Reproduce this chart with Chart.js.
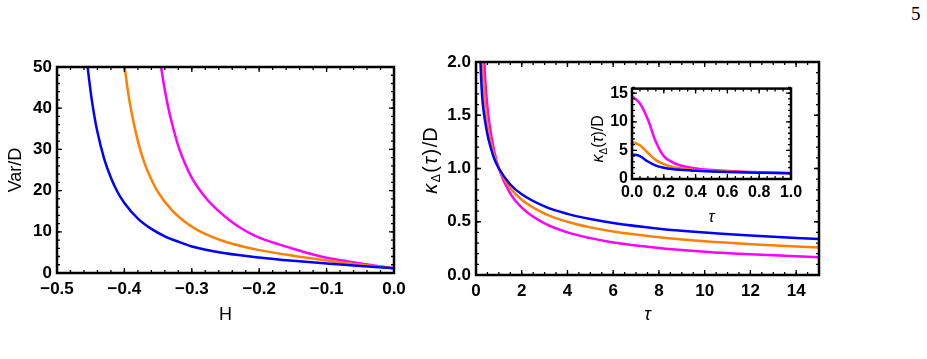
<!DOCTYPE html>
<html>
<head>
<meta charset="utf-8">
<script src="https://cdn.jsdelivr.net/npm/chart.js@4"></script>
<style>
  body { margin: 0; background: #fff; width: 927px; height: 359px; position: relative; overflow: hidden; }
  .box { position: absolute; }
  #pagenum { position: absolute; left: 911px; top: 4px; font: 19px "Liberation Serif", serif; line-height: 19px; color: #000; }
</style>
</head>
<body>
<div id="pagenum">5</div>
<div class="box" style="left:0;top:0"><canvas id="varChart" width="420" height="330"></canvas></div>
<div class="box" style="left:420px;top:0"><canvas id="kappaChart" width="420" height="330"></canvas></div>
<div class="box" style="left:580px;top:75px"><canvas id="insetChart" width="230" height="160"></canvas></div>
<script>
// panel izquierdo: Var/D frente a H
var hBlue = [-0.458, -0.455, -0.45, -0.445, -0.44, -0.43, -0.42, -0.41, -0.40, -0.38, -0.36, -0.34, -0.32, -0.30, -0.25, -0.20, -0.15, -0.10, -0.05, 0];
var vBlue = [55.7, 50.7, 43.9, 38.5, 34.2, 27.7, 23.1, 19.6, 17.0, 13.2, 10.7, 8.9, 7.6, 6.45, 4.8, 3.75, 2.95, 2.3, 1.7, 1.15];
var hOrange = [-0.403, -0.40, -0.395, -0.39, -0.38, -0.37, -0.36, -0.35, -0.33, -0.31, -0.29, -0.27, -0.25, -0.22, -0.20, -0.15, -0.10, -0.05, 0];
var vOrange = [55.2, 50.7, 44.4, 39.5, 32.0, 26.6, 22.7, 19.6, 15.3, 12.4, 10.3, 8.77, 7.59, 6.27, 5.55, 4.2, 3.05, 2.0, 1.15];
var hMagenta = [-0.35, -0.345, -0.34, -0.335, -0.33, -0.32, -0.31, -0.30, -0.28, -0.26, -0.24, -0.22, -0.20, -0.17, -0.15, -0.12, -0.10, -0.07, -0.05, -0.025, 0];
var vMagenta = [55.5, 49.4, 44.4, 40.2, 36.7, 30.8, 26.5, 23.1, 18.4, 15.0, 12.3, 10.2, 8.6, 6.9, 5.9, 4.5, 3.7, 2.85, 2.3, 1.7, 1.15];

// panel derecho (y recuadro): kappa/D frente a tau
var tau = [0, 0.05, 0.1, 0.15, 0.2, 0.25, 0.3, 0.4, 0.5, 0.6, 0.8, 1, 1.5, 2, 3, 4, 5, 6, 8, 10, 12, 15];
var kBlue = [4.3, 4.0, 3.05, 2.35, 1.98, 1.74, 1.60, 1.44, 1.32, 1.23, 1.09, 1.0, 0.85, 0.758, 0.644, 0.574, 0.525, 0.488, 0.435, 0.398, 0.370, 0.338];
var kOrange = [6.45, 5.9, 4.55, 3.3, 2.6, 2.15, 1.9, 1.58, 1.41, 1.29, 1.12, 1.0, 0.816, 0.707, 0.577, 0.5, 0.447, 0.408, 0.354, 0.316, 0.289, 0.258];
var kMagenta = [14.5, 13.2, 10.4, 6.5, 4.0, 3.0, 2.4, 1.85, 1.58, 1.40, 1.16, 1.0, 0.765, 0.633, 0.484, 0.40, 0.346, 0.306, 0.254, 0.219, 0.194, 0.167];

var colores = ["rgb(0,0,255)", "rgb(255,128,0)", "rgb(255,0,255)"];

function puntos(xs, ys, maxX) {
    var out = [];
    for (let i = 0; i < xs.length; i++) {
        if (maxX === undefined || xs[i] <= maxX) out.push({x: xs[i], y: ys[i]});
    }
    return out;
}
function serie(data, color) {
    return {data: data, borderColor: color, borderWidth: 2.5, pointRadius: 0, fill: false, cubicInterpolationMode: "monotone"};
}
function fmt1(v) { return (Math.abs(v) < 1e-9 ? 0 : v).toFixed(1).replace("-", "\u2212"); }

// marco con marcas hacia dentro, como Mathematica
var marco = {
    id: "marco",
    afterDatasetsDraw(chart, args, o) {
        const ctx = chart.ctx, a = chart.chartArea, sx = chart.scales.x, sy = chart.scales.y;
        ctx.save();
        ctx.strokeStyle = "#000";
        ctx.lineWidth = 1.3;
        function marcas(scale, step, len, horiz) {
            const n = Math.round((scale.max - scale.min) / step);
            for (let i = 0; i <= n; i++) {
                const v = scale.min + i * step;
                const p = scale.getPixelForValue(v);
                ctx.beginPath();
                if (horiz) {
                    ctx.moveTo(p, a.bottom); ctx.lineTo(p, a.bottom - len);
                    ctx.moveTo(p, a.top); ctx.lineTo(p, a.top + len);
                } else {
                    ctx.moveTo(a.left, p); ctx.lineTo(a.left + len, p);
                    ctx.moveTo(a.right, p); ctx.lineTo(a.right - len, p);
                }
                ctx.stroke();
            }
        }
        marcas(sx, o.xMinor, 3, true);
        marcas(sx, o.xMajor, 5, true);
        marcas(sy, o.yMinor, 3, false);
        marcas(sy, o.yMajor, 5, false);
        ctx.lineWidth = 2.5;
        ctx.strokeRect(a.left, a.top, a.right - a.left, a.bottom - a.top);
        ctx.restore();
    }
};

// titulo vertical con subindice: kappa_Delta(tau)/D
var tituloKappa = {
    id: "tituloKappa",
    afterDraw(chart, args, o) {
        const ctx = chart.ctx, a = chart.chartArea;
        const s = o.size, fam = '"Liberation Sans", Arial, sans-serif', gap = o.gap || 0;
        const partes = [
            {t: "\u03BA", f: "italic " + s + "px " + fam, dy: 0},
            {t: "\u0394", f: Math.round(s * 0.62) + "px " + fam, dy: s * 0.3},
            {t: "(", f: s + "px " + fam, dy: 0},
            {t: "\u03C4", f: "italic " + s + "px " + fam, dy: 0},
            {t: ")", f: s + "px " + fam, dy: 0},
            {t: "/D", f: s + "px " + fam, dy: 0}
        ];
        ctx.save();
        let total = 0;
        partes.forEach(p => { ctx.font = p.f; p.w = ctx.measureText(p.t).width + gap; total += p.w; });
        total -= gap;
        ctx.translate(a.left - o.dx, (a.top + a.bottom) / 2 + o.dy);
        ctx.rotate(-Math.PI / 2);
        ctx.fillStyle = "#000";
        ctx.textBaseline = "middle";
        let x = -total / 2;
        partes.forEach(p => { ctx.font = p.f; ctx.fillText(p.t, x, p.dy); x += p.w; });
        ctx.restore();
    }
};

var tickFont = {family: '"Liberation Sans", Arial, sans-serif', size: 17, weight: "bold"};
var titleFont = {family: '"Liberation Sans", Arial, sans-serif', size: 18};

function ejes(cfg) {
    return {
        x: {
            type: "linear", min: cfg.xmin, max: cfg.xmax,
            afterFit: s => { s.height = cfg.xh; },
            grid: {display: false, drawTicks: false}, border: {display: false},
            ticks: {stepSize: cfg.xstep, includeBounds: false, maxRotation: 0, autoSkip: false, padding: cfg.xpad, color: "#000", font: cfg.tf, callback: cfg.xcb},
            title: cfg.xtitle ? {display: true, text: cfg.xtitle, color: "#000", font: cfg.xtf, padding: {top: 0, bottom: cfg.xtpad}} : {display: false}
        },
        y: {
            type: "linear", min: cfg.ymin, max: cfg.ymax,
            afterFit: s => { s.width = cfg.yw; },
            grid: {display: false, drawTicks: false}, border: {display: false},
            ticks: {stepSize: cfg.ystep, includeBounds: false, autoSkip: false, padding: cfg.ypad, color: "#000", font: cfg.tf, callback: cfg.ycb},
            title: cfg.ytitle ? {display: true, text: cfg.ytitle, color: "#000", font: titleFont, padding: {top: 5, bottom: 0}} : {display: false}
        }
    };
}

var base = {
    responsive: false, animation: false, devicePixelRatio: 1,
    plugins: {legend: {display: false}, tooltip: {enabled: false}}
};

new Chart(document.getElementById("varChart"), {
    type: "line",
    data: {datasets: [
        serie(puntos(hBlue, vBlue), colores[0]),
        serie(puntos(hOrange, vOrange), colores[1]),
        serie(puntos(hMagenta, vMagenta), colores[2])
    ]},
    options: Object.assign({}, base, {
        layout: {padding: {left: 0, top: 67, right: 26, bottom: 0}},
        scales: ejes({xmin: -0.5, xmax: 0, xstep: 0.1, ymin: 0, ymax: 50, ystep: 10, xh: 57, yw: 57, xpad: 6, ypad: 5,
            tf: tickFont, xtf: titleFont, xtpad: 4, xtitle: "H", ytitle: "Var/D", xcb: fmt1, ycb: v => String(v)}),
        plugins: Object.assign({}, base.plugins, {marco: {xMajor: 0.1, xMinor: 0.02, yMajor: 10, yMinor: 2}})
    }),
    plugins: [marco]
});

new Chart(document.getElementById("kappaChart"), {
    type: "line",
    data: {datasets: [
        serie(puntos(tau, kBlue), colores[0]),
        serie(puntos(tau, kOrange), colores[1]),
        serie(puntos(tau, kMagenta), colores[2])
    ]},
    options: Object.assign({}, base, {
        layout: {padding: {left: 0, top: 62, right: 21, bottom: 0}},
        scales: ejes({xmin: 0, xmax: 15, xstep: 2, ymin: 0, ymax: 2, ystep: 0.5, xh: 55, yw: 56, xpad: 6, ypad: 5,
            tf: tickFont, xtf: Object.assign({style: "italic"}, titleFont), xtpad: 4, xtitle: "\u03C4", xcb: v => String(v), ycb: fmt1}),
        plugins: Object.assign({}, base.plugins, {marco: {xMajor: 2, xMinor: 0.5, yMajor: 0.5, yMinor: 0.1}, tituloKappa: {size: 20, gap: 1.5, dx: 45, dy: -8}})
    }),
    plugins: [marco, tituloKappa]
});

var insetTick = {family: '"Liberation Sans", Arial, sans-serif', size: 16, weight: "bold"};
new Chart(document.getElementById("insetChart"), {
    type: "line",
    data: {datasets: [
        serie(puntos(tau, kBlue, 1), colores[0]),
        serie(puntos(tau, kOrange, 1), colores[1]),
        serie(puntos(tau, kMagenta, 1), colores[2])
    ]},
    options: Object.assign({}, base, {
        layout: {padding: {left: 0, top: 7, right: 19, bottom: 0}},
        scales: ejes({xmin: 0, xmax: 1, xstep: 0.2, ymin: 0, ymax: 15.8, ystep: 5, xh: 56, yw: 52, xpad: 4, ypad: 4,
            tf: insetTick, xtf: {family: '"Liberation Sans", Arial, sans-serif', size: 16, style: "italic"}, xtpad: 8, xtitle: "\u03C4", xcb: fmt1, ycb: v => String(v)}),
        plugins: Object.assign({}, base.plugins, {marco: {xMajor: 0.2, xMinor: 0.05, yMajor: 5, yMinor: 1}, tituloKappa: {size: 16, dx: 33, dy: 5}})
    }),
    plugins: [marco, tituloKappa]
});
</script>
</body>
</html>
